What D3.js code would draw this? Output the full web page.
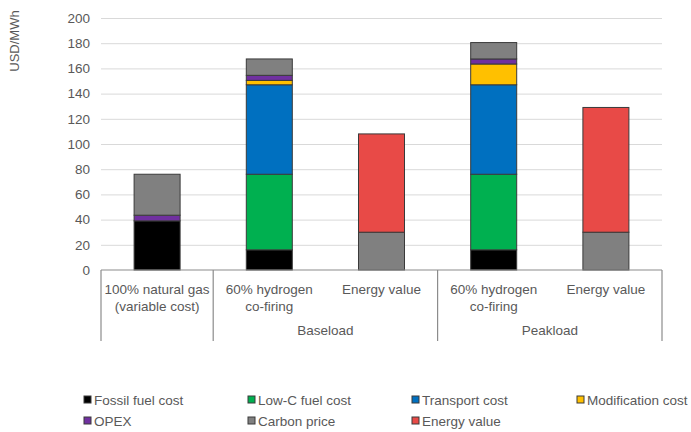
<!DOCTYPE html>
<html>
<head>
<meta charset="utf-8">
<script src="https://cdn.jsdelivr.net/npm/d3@7"></script>
<style>
  body { margin: 0; background: #fff; }
  svg { display: block; font-family: "Liberation Sans", Arial, sans-serif; }
</style>
</head>
<body>
<div id="chart"></div>
<script>
// categories (two-line labels) and the group they belong to
var categories = ['ng', 'base_h2', 'base_ev', 'peak_h2', 'peak_ev'];
var catLabels = [
	['100% natural gas', '(variable cost)'],
	['60% hydrogen', 'co-firing'],
	['Energy value'],
	['60% hydrogen', 'co-firing'],
	['Energy value']
];
var groups = [
	{ name: 'Baseload', from: 1, to: 2 },
	{ name: 'Peakload', from: 3, to: 4 }
];

// series values (USD/MWh)
var seriesNames = ['Fossil fuel cost', 'Low-C fuel cost', 'Transport cost', 'Modification cost', 'OPEX', 'Carbon price', 'Energy value'];
var fossil = [39, 16, 0, 16, 0];
var lowC = [0, 60, 0, 60, 0];
var transport = [0, 71, 0, 71, 0];
var modification = [0, 3.5, 0, 16.5, 0];
var opex = [4.5, 4, 0, 4, 0];
var carbon = [32.5, 13, 30, 13, 30];
var energy = [0, 0, 78, 0, 99];
var yTicks = [0, 20, 40, 60, 80, 100, 120, 140, 160, 180, 200];

var colors = ['#000000', '#00b050', '#0070c0', '#ffc000', '#7030a0', '#808080', '#e84a47'];

const WIDTH = 691;
const HEIGHT = 432;
var margin = { left: 101, right: 29, top: 18, bottom: 162 };

var seriesValues = [fossil, lowC, transport, modification, opex, carbon, energy];
var rows = categories.map(function (c, i) {
	var r = { cat: c };
	seriesNames.forEach(function (s, j) { r[s] = seriesValues[j][i]; });
	return r;
});
var stacked = d3.stack().keys(seriesNames)(rows);

var svg = d3.select('#chart').append('svg')
	.attr('width', WIDTH)
	.attr('height', HEIGHT);

var x = d3.scaleBand()
	.domain(categories)
	.range([margin.left, WIDTH - margin.right])
	.paddingInner(0.59)
	.paddingOuter(0.295);
var y = d3.scaleLinear()
	.domain([0, 200])
	.range([HEIGHT - margin.bottom, margin.top]);

// gridlines
svg.append('g')
	.selectAll('line')
	.data(yTicks.slice(1))
	.enter().append('line')
	.attr('x1', margin.left)
	.attr('x2', WIDTH - margin.right)
	.attr('y1', function (d) { return y(d) + 0.5; })
	.attr('y2', function (d) { return y(d) + 0.5; })
	.attr('stroke', '#d9d9d9')
	.attr('stroke-width', 1);

// y axis labels
var yAxis = svg.append('g')
	.attr('transform', 'translate(' + (margin.left - 11) + ',0)')
	.call(d3.axisLeft(y).tickValues(yTicks).tickSize(0).tickPadding(0));
yAxis.select('.domain').remove();
yAxis.selectAll('text')
	.attr('fill', '#595959')
	.style('font-size', '13.5px')
	.style('font-family', '"Liberation Sans", Arial, sans-serif');

svg.append('text')
	.attr('transform', 'translate(19,41) rotate(-90)')
	.attr('text-anchor', 'middle')
	.attr('fill', '#595959')
	.style('font-size', '13px')
	.text('USD/MWh');

// bars
svg.append('g')
	.selectAll('g')
	.data(stacked)
	.enter().append('g')
	.attr('fill', function (d, i) { return colors[i]; })
	.selectAll('rect')
	.data(function (d) { return d.filter(function (p) { return p[1] - p[0] > 0; }); })
	.enter().append('rect')
	.attr('x', function (d) { return x(d.data.cat); })
	.attr('width', x.bandwidth())
	.attr('y', function (d) { return y(d[1]); })
	.attr('height', function (d) { return y(d[0]) - y(d[1]); })
	.attr('stroke', '#3a3a3a')
	.attr('stroke-width', 1);

// category axis with separators
var axisY = y(0);
var step = x.step();
var axisG = svg.append('g').attr('stroke', '#8c8c8c').attr('stroke-width', 1.2);
axisG.append('line')
	.attr('x1', margin.left).attr('x2', WIDTH - margin.right)
	.attr('y1', axisY).attr('y2', axisY);
var sepIdx = [0, 1, 3, 5];
axisG.selectAll('line.sep')
	.data(sepIdx)
	.enter().append('line')
	.attr('class', 'sep')
	.attr('x1', function (d) { return margin.left + d * step; })
	.attr('x2', function (d) { return margin.left + d * step; })
	.attr('y1', axisY)
	.attr('y2', axisY + 71);

var catText = svg.append('g')
	.attr('fill', '#595959')
	.style('font-size', '13.5px')
	.attr('text-anchor', 'middle');
catLabels.forEach(function (lines, i) {
	var cx = x(categories[i]) + x.bandwidth() / 2;
	lines.forEach(function (t, k) {
		catText.append('text')
			.attr('x', cx)
			.attr('y', axisY + 24 + k * 17)
			.text(t);
	});
});
groups.forEach(function (g) {
	var gx = (x(categories[g.from]) + x(categories[g.to]) + x.bandwidth()) / 2;
	catText.append('text')
		.attr('x', gx)
		.attr('y', axisY + 65)
		.text(g.name);
});

// legend
var legendX = [84, 248, 412, 577];
var legendY = [400, 421];
var legend = svg.append('g')
	.style('font-size', '13.5px');
seriesNames.forEach(function (s, i) {
	var lx = legendX[i % 4];
	var ly = legendY[Math.floor(i / 4)];
	legend.append('rect')
		.attr('x', lx)
		.attr('y', ly - 4)
		.attr('width', 7)
		.attr('height', 7)
		.attr('fill', colors[i])
		.attr('stroke', '#3a3a3a')
		.attr('stroke-width', 1);
	legend.append('text')
		.attr('x', lx + 10)
		.attr('y', ly + 5)
		.attr('fill', '#595959')
		.text(s);
});
</script>
</body>
</html>
